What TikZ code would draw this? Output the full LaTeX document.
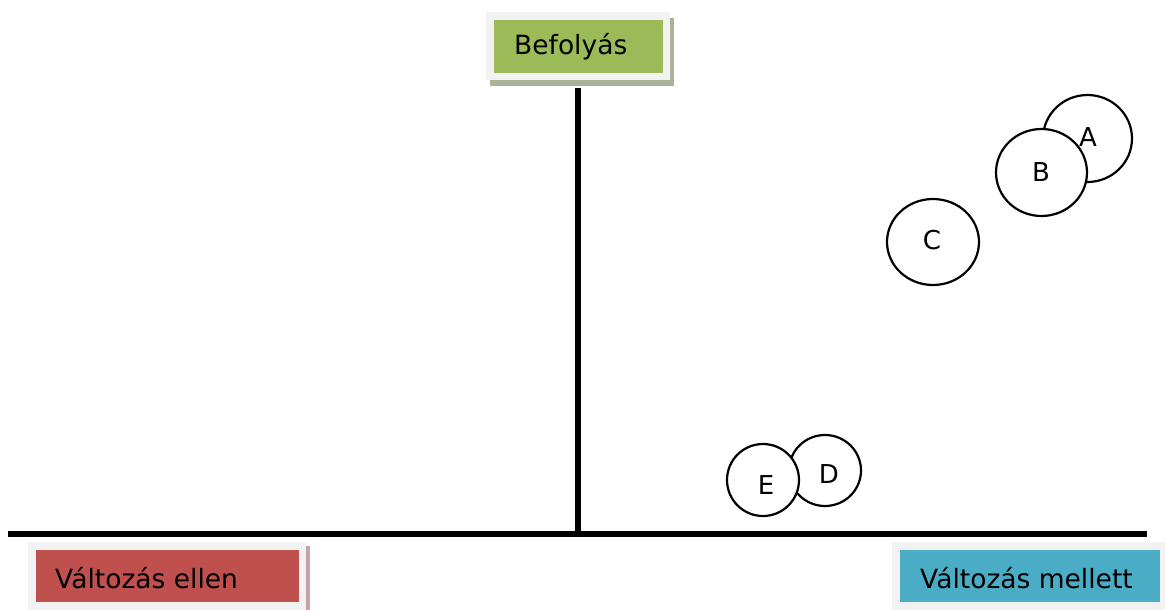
\documentclass[tikz,border=0pt]{standalone}
\usepackage{fontspec}
\usetikzlibrary{shapes.geometric}
\setmainfont{DejaVu Sans}
\definecolor{boxgreen}{HTML}{9BBB59}
\definecolor{boxred}{HTML}{C0504D}
\definecolor{boxblue}{HTML}{4BACC6}
\definecolor{frame}{HTML}{F2F2F2}
\definecolor{shgreen}{HTML}{A9B398}
\definecolor{shred}{HTML}{C4A4A4}
\begin{document}
\begin{tikzpicture}[x=1pt,y=-1pt,
  lbl/.style={font=\fontsize{26.5}{30}\selectfont, text=black, inner sep=0pt, anchor=west},
  bubble/.style={draw=black, line width=2.2pt, fill=white, ellipse, inner sep=0pt, font=\fontsize{26}{30}\selectfont},
  blbl/.style={font=\fontsize{26}{30}\selectfont, text=black, inner sep=0pt},
  axis/.style={line width=5.5pt, black}]
\useasboundingbox (0,0) rectangle (1165,610);
% Befolyas box
\fill[shgreen] (490,18) rectangle (674,86);
\fill[frame] (486,12) rectangle (670,80);
\node[fill=boxgreen, minimum width=169pt, minimum height=53pt, inner sep=0pt] (bef) at (578.5,46.5) {};
\node[lbl] (beft) at (514,47) {Befolyás};
% red box
\fill[shred] (32,546) rectangle (310,610);
\fill[frame] (28,542) rectangle (306,610);
\node[fill=boxred, minimum width=263pt, minimum height=52pt, inner sep=0pt] (ell) at (167.5,576) {};
\node[lbl] (ellt) at (55,578) {Változás ellen};
% blue box
\fill[frame] (892,542) rectangle (1165,610);
\node[fill=boxblue, minimum width=260pt, minimum height=52pt, inner sep=0pt] (mel) at (1030,576) {};
\node[lbl] (melt) at (920,578) {Változás mellett};
% axes
\coordinate (vtop) at (578,88);
\coordinate (vbot) at (578,534);
\coordinate (hl) at (8,534);
\coordinate (hr) at (1147,534);
\draw[axis] (vtop) -- (vbot);
\draw[axis] (hl) -- (hr);
% bubbles
\node[bubble, minimum width=89pt, minimum height=87pt] (A) at (1087.5,138.5) {};
\node[blbl] (At) at (1088,137) {A};
\node[bubble, minimum width=91pt, minimum height=87pt] (B) at (1041.5,172.5) {};
\node[blbl] (Bt) at (1041,172) {B};
\node[bubble, minimum width=92pt, minimum height=86pt] (C) at (933,242) {};
\node[blbl] (Ct) at (932,240) {C};
\node[bubble, minimum width=72pt, minimum height=71pt] (D) at (825,470.5) {};
\node[blbl] (Dt) at (829,474) {D};
\node[bubble, minimum width=72pt, minimum height=72pt] (E) at (763,480) {};
\node[blbl] (Et) at (766,485) {E};
\end{tikzpicture}
\end{document}
